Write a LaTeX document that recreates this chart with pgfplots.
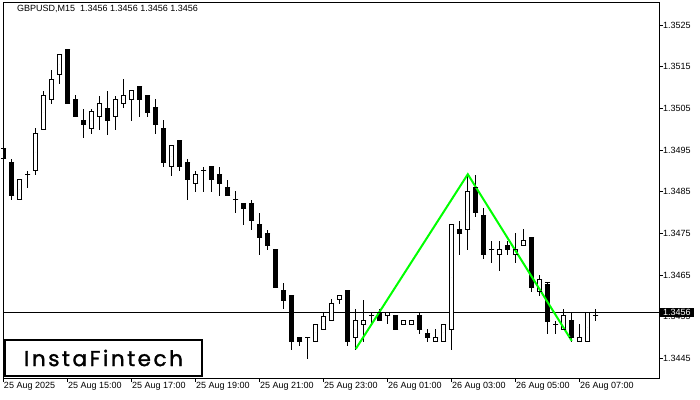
\documentclass[border=0pt]{standalone}
\usepackage{pgfplots}
\pgfplotsset{compat=1.18}
\usepackage{pgfplotstable}
\usepackage{fontspec}
\setmainfont{Liberation Sans}
\newfontfamily\logofont[LetterSpace=12, FakeBold=1.5]{Poppins}
\definecolor{lime}{RGB}{0,255,0}

% GBPUSD M15 candles, i = 15-min step from 25 Aug 13:00
\pgfplotstableread{
i o h l c
0 1.34954 1.34954 1.34910 1.34930
1 1.34920 1.34930 1.34830 1.34840
2 1.34832 1.34880 1.34832 1.34880
3 1.34892 1.34902 1.34860 1.34892
4 1.34900 1.35002 1.34890 1.34990
5 1.35000 1.35092 1.35000 1.35082
6 1.35072 1.35142 1.35062 1.35120
7 1.35132 1.35180 1.35110 1.35180
8 1.35192 1.35192 1.35062 1.35062
9 1.35072 1.35082 1.35030 1.35030
10 1.35022 1.35050 1.34980 1.35012
11 1.35002 1.35050 1.34990 1.35042
12 1.35030 1.35082 1.35000 1.35062
13 1.35050 1.35092 1.34988 1.35020
14 1.35030 1.35082 1.35000 1.35072
15 1.35062 1.35120 1.35050 1.35082
16 1.35072 1.35092 1.35020 1.35092
17 1.35102 1.35102 1.35030 1.35072
18 1.35082 1.35082 1.35030 1.35040
19 1.35051 1.35072 1.34988 1.35012
20 1.35002 1.35022 1.34910 1.34920
21 1.34910 1.34961 1.34890 1.34961
22 1.34972 1.34972 1.34900 1.34910
23 1.34920 1.34930 1.34830 1.34880
24 1.34870 1.34900 1.34850 1.34892
25 1.34900 1.34910 1.34850 1.34900
26 1.34910 1.34910 1.34850 1.34880
27 1.34892 1.34910 1.34840 1.34870
28 1.34861 1.34880 1.34840 1.34840
29 1.34832 1.34852 1.34800 1.34832
30 1.34822 1.34822 1.34770 1.34810
31 1.34822 1.34832 1.34760 1.34780
32 1.34772 1.34800 1.34699 1.34740
33 1.34750 1.34760 1.34710 1.34720
34 1.34712 1.34712 1.34620 1.34620
35 1.34612 1.34631 1.34570 1.34590
36 1.34602 1.34602 1.34470 1.34490
37 1.34501 1.34501 1.34480 1.34490
38 1.34501 1.34501 1.34450 1.34501
39 1.34490 1.34532 1.34490 1.34532
40 1.34520 1.34560 1.34520 1.34551
41 1.34541 1.34592 1.34541 1.34582
42 1.34591 1.34601 1.34580 1.34601
43 1.34612 1.34612 1.34480 1.34490
44 1.34500 1.34570 1.34472 1.34541
45 1.34532 1.34592 1.34490 1.34541
46 1.34552 1.34560 1.34532 1.34552
47 1.34560 1.34570 1.34541 1.34541
48 1.34552 1.34560 1.34532 1.34560
49 1.34552 1.34552 1.34520 1.34520
50 1.34532 1.34541 1.34532 1.34541
51 1.34532 1.34541 1.34532 1.34541
52 1.34552 1.34560 1.34510 1.34520
53 1.34510 1.34520 1.34490 1.34500
54 1.34491 1.34520 1.34491 1.34500
55 1.34490 1.34532 1.34490 1.34532
56 1.34520 1.34772 1.34471 1.34772
57 1.34760 1.34782 1.34700 1.34750
58 1.34760 1.34892 1.34712 1.34851
59 1.34861 1.34892 1.34790 1.34800
60 1.34792 1.34811 1.34689 1.34700
61 1.34712 1.34732 1.34680 1.34712
62 1.34700 1.34732 1.34660 1.34712
63 1.34721 1.34732 1.34700 1.34712
64 1.34700 1.34751 1.34680 1.34712
65 1.34721 1.34760 1.34721 1.34732
66 1.34741 1.34741 1.34610 1.34620
67 1.34610 1.34652 1.34600 1.34640
68 1.34631 1.34631 1.34510 1.34540
69 1.34532 1.34542 1.34510 1.34532
70 1.34520 1.34570 1.34520 1.34552
71 1.34541 1.34560 1.34490 1.34500
72 1.34490 1.34532 1.34490 1.34500
73 1.34490 1.34560 1.34490 1.34560
74 1.34552 1.34570 1.34540 1.34552
}\candles

\pgfplotsset{
  bars/.style={only marks, mark=*, mark size=0pt,
    mark options={draw=none, fill=none}, forget plot,
    error bars/.cd, y dir=both, y explicit, error mark=none,
    error bar style={#1}},
}

\begin{document}
\begin{tikzpicture}
\path[use as bounding box] (0,0) rectangle (700bp,400bp);
\begin{axis}[
    name=ax,
    at={(3bp,22bp)}, anchor=south west,
    scale only axis,
    width=656bp, height=375bp,
    xmin=-0.1, xmax=81.9,
    ymin=1.34403, ymax=1.35303,
    axis line style={black, line width=1bp},
    tick style={black, line width=1bp},
    major tick length=4bp,
    tick align=outside,
    xtick pos=lower, ytick pos=right,
    yticklabel pos=right,
    xtick={0,8,...,72},
    xticklabels={25 Aug 2025, 25 Aug 15:00, 25 Aug 17:00, 25 Aug 19:00,
      25 Aug 21:00, 25 Aug 23:00, 26 Aug 01:00, 26 Aug 03:00,
      26 Aug 05:00, 26 Aug 07:00},
    ytick={1.3445,1.3455,1.3465,1.3475,1.3485,1.3495,1.3505,1.3515,1.3525},
    yticklabels={1.3445,1.3455,1.3465,1.3475,1.3485,1.3495,1.3505,1.3515,1.3525},
    tick label style={font=\fontsize{9bp}{10bp}\selectfont, inner sep=0pt},
    xticklabel style={anchor=north west},
    yticklabel style={anchor=west},
  ]
  % current price line
  \addplot[black, line width=1bp, forget plot] coordinates {(-1,1.3456) (83,1.3456)};
  \coordinate (pl) at (axis cs:81.9,1.3456);

  % wicks
  \addplot[bars={black, line width=1bp}]
    table[x=i, y expr=(\thisrow{h}+\thisrow{l})/2, y error expr=(\thisrow{h}-\thisrow{l})/2] {\candles};
  % bodies: outline, white inside, top and bottom edges
  \addplot[bars={black, line width=5bp}]
    table[x=i, y expr=(\thisrow{o}+\thisrow{c})/2, y error expr=abs(\thisrow{c}-\thisrow{o})/2] {\candles};
  \addplot[bars={white, line width=3bp}]
    table[x=i, y expr=(\thisrow{o}+\thisrow{c})/2, y error expr=abs(\thisrow{c}-\thisrow{o})/2] {\candles};
  \addplot[only marks, mark=-, mark size=2.5bp, mark options={black, line width=1bp}, forget plot]
    table[x=i, y=o] {\candles};
  \addplot[only marks, mark=-, mark size=2.5bp, mark options={black, line width=1bp}, forget plot]
    table[x=i, y=c] {\candles};
  % bearish bodies filled black
  \addplot[bars={black, line width=5bp}]
    table[x=i, y expr=(\thisrow{o}+\thisrow{c})/2, y error expr={max(\thisrow{o}-\thisrow{c},0)/2}] {\candles};

  % pattern
  \addplot[lime, line width=2bp, forget plot] coordinates {(44,1.34473) (58,1.34892) (71,1.34492)};
\end{axis}

\node[anchor=north west, inner sep=0pt, xshift=14bp, yshift=-2bp,
  font=\fontsize{9bp}{10bp}\selectfont] at (ax.north west)
  {GBPUSD,M15\ \ 1.3456 1.3456 1.3456 1.3456};
\node[anchor=west, fill=black, text=white, inner xsep=3bp, inner ysep=1.5bp, xshift=1bp,
  font=\fontsize{9bp}{10bp}\selectfont] at (pl) {1.3456};
\node[anchor=south west, draw=black, line width=2bp, fill=white,
  minimum width=197bp, minimum height=36bp, inner sep=0pt, xshift=1bp, yshift=1bp,
  font=\logofont\fontsize{21.5bp}{21.5bp}\selectfont] at (ax.south west) {InstaFintech};
\end{tikzpicture}
\end{document}
